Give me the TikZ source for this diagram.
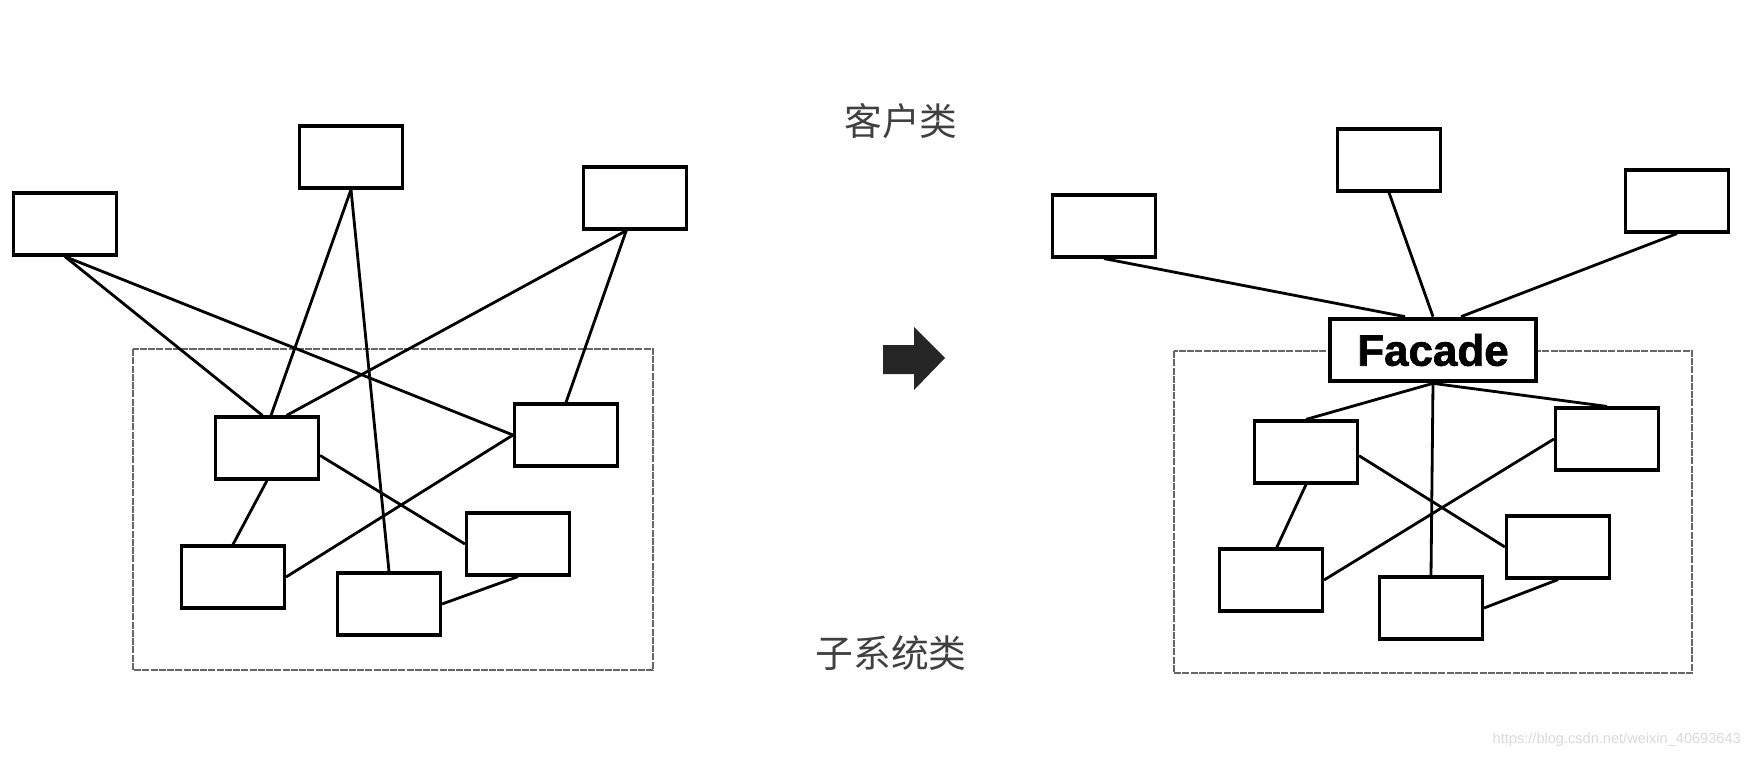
\documentclass[tikz,border=0pt]{standalone}
\usepackage{fontspec}
\usepackage{tikz}
\usetikzlibrary{calc}
\newfontfamily\cjk{Noto Sans CJK SC}
\newfontfamily\helv{Liberation Sans}[BoldFeatures={FakeBold=1.6}]
\tikzstyle{cbox}=[draw=black,line width=1.8pt,fill=white,minimum width=2.06cm,
                minimum height=1.24cm,inner sep=0]
\tikzstyle{facd}=[draw=black,line width=2.4pt,fill=white,minimum width=4.13cm,
                minimum height=1.25cm,inner sep=0,font=\helv\bfseries\fontsize{25}{25}\selectfont]
\tikzstyle{sysbox}=[draw=black!60,line width=1.5pt,dash pattern=on 4pt off 0.7pt]
\tikzstyle{ln}=[draw=black,line width=1.6pt]
\tikzstyle{lbl}=[text=black!75,font=\cjk\fontsize{21.5}{21.5}\selectfont]

\begin{document}
\begin{tikzpicture}[x=0.02cm,y=-0.02cm]
\useasboundingbox (0,0) rectangle (1758,758);
\draw[sysbox] (133,349) rectangle (653,670);
\node[cbox] (cl1) at (65,224) {};
\node[cbox] (cl2) at (351,157) {};
\node[cbox] (cl3) at (635,198) {};
\node[cbox] (sub1) at (267,448) {};
\node[cbox] (sub2) at (566,435) {};
\node[cbox] (sub3) at (233,577) {};
\node[cbox] (sub4) at (389,604) {};
\node[cbox] (sub5) at (518,544) {};
\draw[ln] (cl1.south) -- (sub1.98);
\draw[ln] (cl1.south) -- (sub2.west);
\draw[ln] (cl2.south) -- (sub1.83);
\draw[ln] (cl2.south) -- (sub4.north);
\draw[ln] (cl3.255) -- (sub1.59);
\draw[ln] (cl3.255) -- (sub2.north);
\draw[ln] (sub1.-8) -- (sub5.west);
\draw[ln] (sub1.south) -- (sub3.north);
\draw[ln] (sub3.east) -- (sub2.west);
\draw[ln] (sub4.east) -- (sub5.south);

\node[lbl] (client) at (901,121) {客户类};
\node[lbl] (subsys) at (891,653) {子系统类};
\fill[black!85] (883,345) -- (914,345) -- (914,327) -- (945,358) -- (914,390)
  -- (914,374) -- (883,374) -- cycle;

\draw[sysbox] (1174,351) rectangle (1692,673);
\node[cbox] (rc1) at (1104,226) {};
\node[cbox] (rc2) at (1389,160) {};
\node[cbox] (rc3) at (1677,201) {};
\node[facd] (fac) at (1433,350) {Facade};
\node[cbox] (rs1) at (1306,452) {};
\node[cbox] (rs2) at (1607,439) {};
\node[cbox] (rs3) at (1271,580) {};
\node[cbox] (rs4) at (1431,608) {};
\node[cbox] (rs5) at (1558,547) {};
\draw[ln] (rc1.south) -- (fac.130);
\draw[ln] (rc2.south) -- (fac.north);
\draw[ln] (rc3.south) -- (fac.50);
\draw[ln] (fac.south) -- (rs1.north);
\draw[ln] (fac.south) -- (rs2.north);
\draw[ln] (fac.south) -- (rs4.north);
\draw[ln] (rs1.-4) -- (rs5.west);
\draw[ln] (rs1.south) -- (rs3.80);
\draw[ln] (rs3.east) -- (rs2.west);
\draw[ln] (rs4.east) -- (rs5.south);

\node[anchor=east,text=black!15,font=\helv\fontsize{8.3}{8.3}\selectfont] (wm)
  at (1747,740) {https://blog.csdn.net/weixin\_40693643};
\end{tikzpicture}
\end{document}
